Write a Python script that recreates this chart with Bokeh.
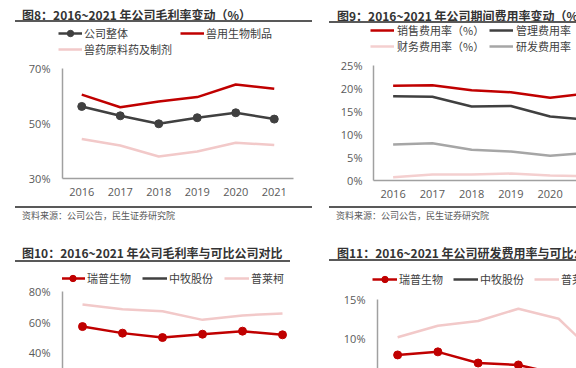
from bokeh.plotting import figure
from bokeh.models import (Range1d, FixedTicker, Legend, LegendItem, PrintfTickFormatter, Div)
from bokeh.layouts import row, column
from bokeh.embed import file_html
from bokeh.resources import INLINE

# ---------------- data ----------------
years = ["2016", "2017", "2018", "2019", "2020", "2021"]

# 图8 公司毛利率变动 (%)
gm_company = [56.2, 52.8, 49.9, 52.1, 53.9, 51.6]
gm_bio = [60.5, 55.9, 58.0, 59.6, 64.2, 62.6]
gm_api = [44.4, 42.0, 38.0, 39.8, 43.0, 42.2]

# 图9 公司期间费用率变动 (%)
exp_sales = [20.6, 20.7, 19.6, 19.2, 18.0, 19.0]
exp_admin = [18.3, 18.2, 16.1, 16.2, 13.9, 13.2]
exp_fin = [0.7, 1.3, 1.3, 1.5, 1.1, 0.9]
exp_rd = [7.8, 8.1, 6.7, 6.3, 5.4, 6.0]

# 图10 毛利率与可比公司对比 (%)
cmp_gm_ruipu = [57.0, 52.7, 49.8, 52.0, 54.0, 51.6]
cmp_gm_zhongmu = [28.0, 27.0, 26.0, 24.0, 23.0, 22.0]
cmp_gm_pulaike = [71.5, 68.4, 67.0, 61.4, 64.3, 65.6]

# 图11 研发费用率与可比公司对比 (%)
cmp_rd_ruipu = [7.8, 8.2, 6.75, 6.5, 5.3, 5.0]
cmp_rd_zhongmu = [3.3, 3.6, 3.8, 4.2, 4.0, 3.9]
cmp_rd_pulaike = [10.1, 11.6, 12.2, 13.8, 12.5, 7.5]

titles = ["图8：2016~2021 年公司毛利率变动（%）",
          "图9：2016~2021 年公司期间费用率变动（%）",
          "图10：2016~2021 年公司毛利率与可比公司对比",
          "图11：2016~2021 年公司研发费用率与可比公司对比"]
source_text = "资料来源：公司公告，民生证券研究院"

# ---------------- style ----------------
RED = "#C00000"
DARK = "#404040"
PINK = "#F2C9C9"
PINK2 = "#F4CFCF"
GRAY = "#A6A6A6"
AXIS = "#A0A0A0"
RULE = "#595959"
TXT = "#404040"
CJK = "Noto Sans CJK SC"
LAT = "Open Sans"

xs = list(range(len(years)))


def title_div(text, W, H, tx, tcy, rx0, rx1, rcy):
    html = (
        f'<div style="position:relative;width:{W}px;height:{H}px;overflow:hidden;">'
        f'<div style="position:absolute;left:{tx}px;top:{tcy - 7.5}px;line-height:15px;'
        f"font-family:'{CJK}';font-size:12px;font-weight:bold;color:#333333;"
        f'white-space:nowrap;">{text}</div>'
        f'<div style="position:absolute;left:{rx0}px;top:{rcy - 1}px;width:{rx1 - rx0}px;'
        f'height:2px;background:{RULE};"></div></div>')
    return Div(text=html, width=W, height=H, margin=0)


def source_div(W, H, rx0, rx1, rcy, tx, tcy):
    html = (
        f'<div style="position:relative;width:{W}px;height:{H}px;overflow:hidden;">'
        f'<div style="position:absolute;left:{rx0}px;top:{rcy - 1}px;width:{rx1 - rx0}px;'
        f'height:2px;background:{RULE};"></div>'
        f'<div style="position:absolute;left:{tx}px;top:{tcy - 6}px;line-height:12px;'
        f"font-family:'{CJK}';font-size:9px;color:#595959;white-space:nowrap;\">"
        f'{source_text}</div></div>')
    return Div(text=html, width=W, height=H, margin=0)


def make_fig(W, H, L, R, T, B, x_end, y0, y1, yticks, show_x, ystand, xstand=9, ybounds="auto"):
    p = figure(width=W, height=H, output_backend="svg", toolbar_location=None, title=None,
               x_range=Range1d(-0.5, x_end), y_range=Range1d(y0, y1),
               min_border_left=L, min_border_right=R, min_border_top=T, min_border_bottom=B,
               x_axis_location="below" if show_x else None, frame_align=False,
               outline_line_color=None, background_fill_color="white",
               border_fill_color="white")
    p.grid.visible = False
    p.yaxis.ticker = FixedTicker(ticks=yticks)
    p.yaxis.formatter = PrintfTickFormatter(format="%d%%")
    p.yaxis.bounds = ybounds
    axes = list(p.yaxis) + (list(p.xaxis) if show_x else [])
    for ax in axes:
        ax.axis_line_color = AXIS
        ax.axis_line_width = 1.5
        ax.major_tick_line_color = None
        ax.minor_tick_line_color = None
        ax.major_tick_out = 0
        ax.major_tick_in = 0
        ax.major_label_text_font = LAT
        ax.major_label_text_font_size = "11px"
        ax.major_label_text_color = "#595959"
    p.yaxis.major_label_standoff = ystand
    if show_x:
        p.xaxis.ticker = FixedTicker(ticks=xs)
        p.xaxis.major_label_overrides = {i: y for i, y in enumerate(years)}
        p.xaxis.major_label_standoff = xstand
    return p


def make_legend(p, items, loc, kw):
    leg = Legend(items=items, location=loc, padding=0, margin=0,
                 border_line_color=None, background_fill_alpha=0,
                 label_text_font=CJK, label_text_font_size="11px", label_text_color=TXT,
                 **kw)
    p.add_layout(leg, "center")


def legend_fig(W, H, entries, loc, kw):
    """A strip without axes whose whole canvas is the frame; it only shows the legend.
    Its view window lies below zero, so the series drawn in it stay out of sight."""
    p = figure(width=W, height=H, output_backend="svg", toolbar_location=None, title=None,
               x_range=Range1d(0, 1), y_range=Range1d(-2, -1),
               x_axis_location=None, y_axis_location=None, frame_align=False,
               min_border_left=0, min_border_right=0, min_border_top=0, min_border_bottom=0,
               outline_line_color=None, background_fill_color="white",
               border_fill_color="white")
    p.grid.visible = False
    items = []
    for label, values, color, marker in entries:
        rs = [p.line(xs, values, line_color=color, line_width=2.5)]
        if marker:
            rs.append(p.scatter(xs, values, marker="circle", size=8,
                                fill_color=color, line_color=color))
        items.append(LegendItem(label=label, renderers=rs))
    make_legend(p, items, loc, kw)
    return p


# ---------------- 图8 (panel 320 x 232 at 0,0) ----------------
d8t = title_div(titles[0], 320, 24, 22, 14.5, 15, 312, 20.5)
l8 = legend_fig(320, 34, [("公司整体", gm_company, DARK, True),
                          ("兽用生物制品", gm_bio, RED, False),
                          ("兽药原料药及制剂", gm_api, PINK, False)],
                (58, 1),
                dict(orientation="horizontal", ncols=2, glyph_width=24, glyph_height=16,
                     label_height=16, label_standoff=2, label_width=96, spacing=0))
p8 = make_fig(320, 146, 62, 27, 10, 26, 5.5, 30, 70, [30, 50, 70], True, 12)
p8.line(xs, gm_company, line_color=DARK, line_width=2.5)
p8.scatter(xs, gm_company, marker="circle", size=8, fill_color=DARK, line_color=DARK)
p8.line(xs, gm_bio, line_color=RED, line_width=2.5)
p8.line(xs, gm_api, line_color=PINK, line_width=2.5)
d8s = source_div(320, 28, 15, 312, 2.7, 22, 12)

# ---------------- 图9 (panel 256 x 232 at 320,0) ----------------
d9t = title_div(titles[1], 256, 25, 17, 15, 9, 256, 22)
l9 = legend_fig(256, 31, [("销售费用率（%）", exp_sales, RED, False),
                          ("管理费用率（%）", exp_admin, DARK, False),
                          ("财务费用率（%）", exp_fin, PINK2, False),
                          ("研发费用率（%）", exp_rd, GRAY, False)],
                (50, 2),
                dict(orientation="horizontal", ncols=2, glyph_width=24, glyph_height=14,
                     label_height=14, label_standoff=3, label_width=92, spacing=0))
p9 = make_fig(256, 148, 53, 0, 9, 24, -0.5 + 203 / 39.25, 0, 25,
              [0, 5, 10, 15, 20, 25], True, 11)
p9.line(xs, exp_sales, line_color=RED, line_width=2.5)
p9.line(xs, exp_admin, line_color=DARK, line_width=2.5)
p9.line(xs, exp_fin, line_color=PINK2, line_width=2.5)
p9.line(xs, exp_rd, line_color=GRAY, line_width=2.5)
d9s = source_div(256, 28, 9, 256, 2.7, 16, 12)

# ---------------- 图10 (panel 320 x 136 at 0,232) ----------------
# the frame reaches up to hold the legend; the axis line itself stops at 80 %
d10t = title_div(titles[2], 320, 33, 22, 20.5, 15, 290, 29)
p10 = make_fig(320, 103, 62, 18, 2, 0, 5.5, 80 - 77 / 1.525, 80 + 24 / 1.525,
               [0, 20, 40, 60, 80], False, 12, ybounds=(0, 80))
r10a = p10.line(xs, cmp_gm_ruipu, line_color=RED, line_width=2.5)
r10b = p10.scatter(xs, cmp_gm_ruipu, marker="circle", size=8, fill_color=RED, line_color=RED)
r10c = p10.line(xs, cmp_gm_zhongmu, line_color=DARK, line_width=2.5)
r10d = p10.line(xs, cmp_gm_pulaike, line_color=PINK, line_width=2.5)
make_legend(p10, [LegendItem(label="瑞普生物", renderers=[r10a, r10b]),
                  LegendItem(label="中牧股份", renderers=[r10c]),
                  LegendItem(label="普莱柯", renderers=[r10d])],
            (-2, 82),
            dict(orientation="horizontal", glyph_width=25, glyph_height=16,
                 label_height=16, label_standoff=2, spacing=11))

# ---------------- 图11 (panel 256 x 136 at 320,232) ----------------
d11t = title_div(titles[3], 256, 33, 17, 20.5, 9, 256, 28)
l11 = legend_fig(256, 24, [("瑞普生物", cmp_rd_ruipu, RED, True),
                           ("中牧股份", cmp_rd_zhongmu, DARK, False),
                           ("普莱柯", cmp_rd_pulaike, PINK, False)],
                 (52, 2),
                 dict(orientation="horizontal", glyph_width=25, glyph_height=16,
                      label_height=16, label_standoff=2, spacing=10))
p11 = make_fig(256, 79, 57, 0, 10, 0, -0.5 + 199 / 40.25, 15 - 69 / 7.7, 15,
               [0, 5, 10, 15], False, 12)
p11.line(xs, cmp_rd_ruipu, line_color=RED, line_width=2.5)
p11.scatter(xs, cmp_rd_ruipu, marker="circle", size=8, fill_color=RED, line_color=RED)
p11.line(xs, cmp_rd_zhongmu, line_color=DARK, line_width=2.5)
p11.line(xs, cmp_rd_pulaike, line_color=PINK, line_width=2.5)

layout = row(column(d8t, l8, p8, d8s, d10t, p10),
             column(d9t, l9, p9, d9s, d11t, l11, p11))
open("out.html", "w").write(file_html(layout, INLINE))
